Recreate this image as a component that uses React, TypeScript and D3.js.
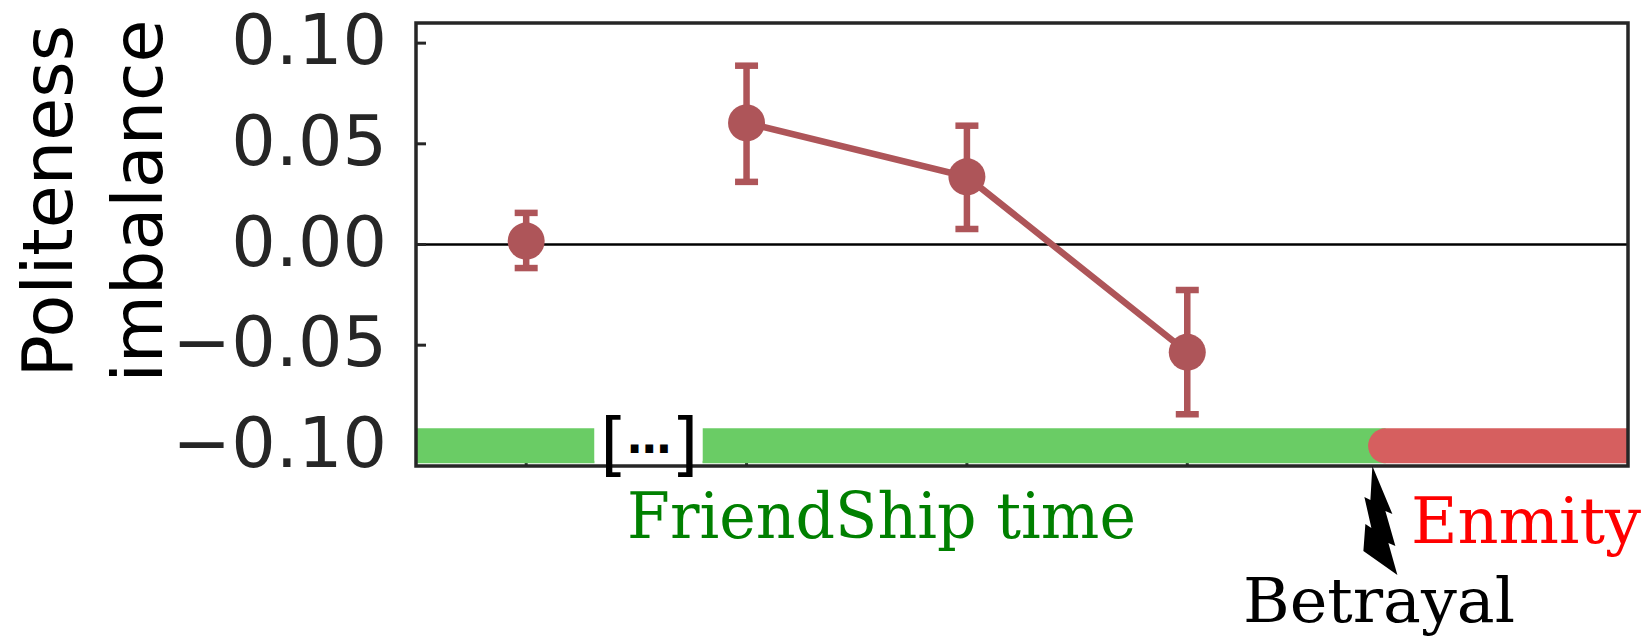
import * as d3 from 'd3';
import React from 'react';

// chart values
const positions = [0, 1, 2, 3];
const means = [0.0017, 0.0604, 0.0336, -0.0535];
const errLow = [-0.0117, 0.0311, 0.0077, -0.0843];
const errHigh = [0.0157, 0.0888, 0.059, -0.0226];
const connected = [1, 2, 3];

const yTicks = [-0.1, -0.05, 0, 0.05, 0.1];
const yTickLabels = ['\u22120.10', '\u22120.05', '0.00', '0.05', '0.10'];
const xTicks = [0, 1, 2, 3];

const friendSegments = [[-0.5, 0.31], [0.8, 3.9]];
const enmitySegment = [3.9, 5];
const betrayalAt = 3.84;
const timelineY = -0.1;

const dim = { w: 1645, h: 639 };
const frame = { left: 416, right: 1628, top: 23, bottom: 466 };

const axisColor = '#262626';
const pointColor = '#ae5559';
const green = '#6acc65';
const red = '#d65f5f';

export default function App() {
  const x = d3.scaleLinear().domain([-0.5, 5]).range([frame.left, frame.right]);
  const y = d3.scaleLinear().domain([-0.11, 0.11]).range([frame.bottom, frame.top]);

  const line = d3.line<number>()
    .x(i => x(positions[i]))
    .y(i => y(means[i]));

  // lightning bolt under the betrayal point
  const bx = x(betrayalAt);
  const by = frame.bottom;
  const bolt = [[0, 0], [20, 48], [13, 45], [23, 80], [16, 77], [25, 109], [-9, 85], [-7, 58], [-1, 62], [-8, 31], [-2, 34]]
    .map(p => `${bx + p[0]},${by + p[1]}`).join(' ');

  const barW = 35;

  return (
    <svg width={dim.w} height={dim.h} style={{ position: 'absolute', left: 0, top: 0, background: '#fff' }}>
      <defs>
        <clipPath id='plot-area'>
          <rect x={frame.left} y={frame.top} width={frame.right - frame.left} height={frame.bottom - frame.top} />
        </clipPath>
      </defs>

      {/* y axis label */}
      <g fontFamily='DejaVu Sans' fontSize={70} fill='#000' textAnchor='middle'>
        <text transform='translate(72, 201) rotate(-90)'>Politeness</text>
        <text transform='translate(162, 201) rotate(-90)'>imbalance</text>
      </g>

      {/* tick labels */}
      <g fontFamily='DejaVu Sans' fontSize={70} fill={axisColor} textAnchor='end'>
        {yTicks.map((t, i) => (
          <text key={t} x={387} y={y(t) + 21}>{yTickLabels[i]}</text>
        ))}
      </g>

      {/* zero line */}
      <line x1={frame.left} x2={frame.right} y1={y(0)} y2={y(0)} stroke='#000' strokeWidth={2.5} />

      {/* ticks (inward) */}
      <g stroke={axisColor} strokeWidth={3}>
        {yTicks.map(t => (
          <line key={t} x1={frame.left} x2={frame.left + 10} y1={y(t)} y2={y(t)} />
        ))}
        {xTicks.map(t => (
          <line key={t} x1={x(t)} x2={x(t)} y1={frame.bottom} y2={frame.bottom - 10} />
        ))}
      </g>

      {/* timeline bars */}
      <g clipPath='url(#plot-area)'>
        {friendSegments.map((s, i) => (
          <line key={i} x1={x(s[0])} x2={x(s[1])} y1={y(timelineY)} y2={y(timelineY)} stroke={green} strokeWidth={barW} />
        ))}
        <line x1={x(enmitySegment[0])} x2={x(enmitySegment[1]) + 30} y1={y(timelineY)} y2={y(timelineY)}
          stroke={red} strokeWidth={barW} strokeLinecap='round' />
      </g>

      {/* frame */}
      <rect x={frame.left} y={frame.top} width={frame.right - frame.left} height={frame.bottom - frame.top}
        fill='none' stroke={axisColor} strokeWidth={3.5} />

      {/* gap with [...] */}
      <rect x={x(friendSegments[0][1])} y={y(timelineY) - 20} width={x(friendSegments[1][0]) - x(friendSegments[0][1])} height={35}
        fill='#fff' />
      <text x={600} y={468} fill='#000' fontFamily='DejaVu Sans' fontSize={70}>
        [<tspan fontSize={44} fontWeight='bold' dy={-15}>{'\u2026'}</tspan><tspan dy={15}>]</tspan>
      </text>

      {/* error bars */}
      <g stroke={pointColor} strokeWidth={6.5}>
        {positions.map((p, i) => (
          <g key={i}>
            <line x1={x(p)} x2={x(p)} y1={y(errLow[i])} y2={y(errHigh[i])} />
            <line x1={x(p) - 11.5} x2={x(p) + 11.5} y1={y(errLow[i])} y2={y(errLow[i])} />
            <line x1={x(p) - 11.5} x2={x(p) + 11.5} y1={y(errHigh[i])} y2={y(errHigh[i])} />
          </g>
        ))}
      </g>

      {/* connecting line */}
      <path d={line(connected) || ''} fill='none' stroke={pointColor} strokeWidth={6.5} />

      {/* points */}
      {positions.map((p, i) => (
        <circle key={i} cx={x(p)} cy={y(means[i])} r={18.5} fill={pointColor} />
      ))}

      {/* annotations */}
      <polygon points={bolt} fill='#000' />
      <g fontFamily='DejaVu Serif'>
        <text x={627} y={538} fontSize={63} fill='#008000' textLength={509} lengthAdjust='spacingAndGlyphs'>FriendShip time</text>
        <text x={1411} y={543} fontSize={64} fill='#ff0000' textLength={230} lengthAdjust='spacingAndGlyphs'>Enmity</text>
        <text x={1243} y={622} fontSize={62} fill='#000' textLength={272} lengthAdjust='spacingAndGlyphs'>Betrayal</text>
      </g>
    </svg>
  );
}
